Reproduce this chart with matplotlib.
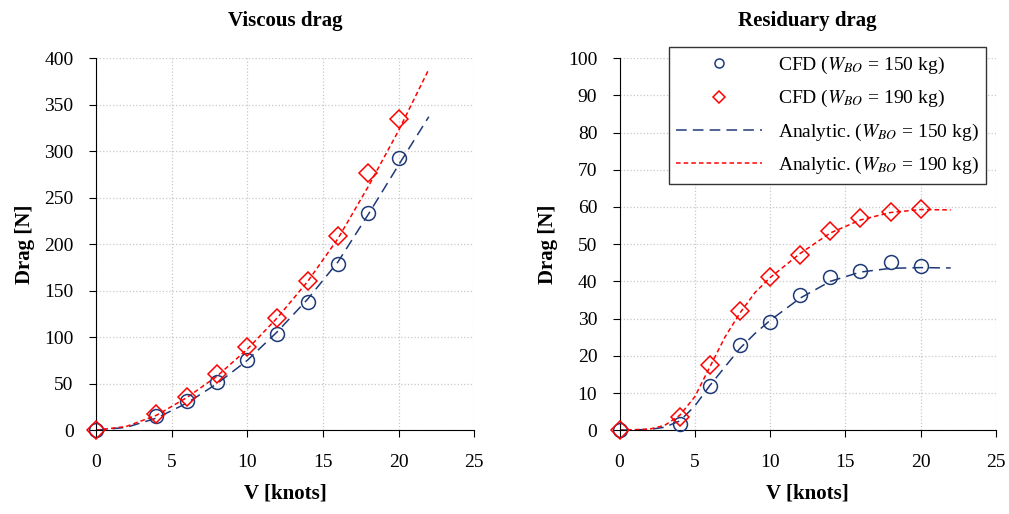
import matplotlib.pyplot as plt
import numpy as np

plt.rcParams['font.family'] = ['Liberation Serif', 'DejaVu Serif']
plt.rcParams['mathtext.fontset'] = 'stix'

# CFD points
v_cfd = [0, 4, 6, 8, 10, 12, 14, 16, 18, 20]
visc_150 = [0, 15, 31, 52, 75, 103, 138, 179, 234, 293]
visc_190 = [0, 17, 36, 60, 89, 121, 160, 209, 277, 335]
resid_150 = [0, 1.8, 12, 23, 29, 36.3, 41.3, 42.7, 45.3, 44]
resid_190 = [0, 3.5, 17.5, 32, 41.2, 47, 53.6, 57, 58.7, 59.5]

# analytic curves
v_an = [0, 2, 4, 6, 8, 10, 12, 14, 16, 18, 20, 22]
visc_an_150 = [0, 3, 13, 29, 50, 75, 106, 141, 181, 232, 285, 337]
visc_an_190 = [0, 4, 16, 35, 58, 87, 121, 160, 206, 262, 322, 388]

v_an_r = [0, 2, 3, 4, 5, 6, 7, 8, 9, 10, 12, 14, 16, 18, 20, 22]
resid_an_150 = [0, 0.2, 0.8, 2.5, 6.5, 12, 17, 22, 26, 29.5, 35.5, 40, 42.5, 43.5, 43.7, 43.6]
resid_an_190 = [0, 0.3, 1.3, 4, 9, 17, 25, 31.5, 37, 41, 47.5, 53, 56.5, 58.5, 59.3, 59.2]

blue = '#1f3a78'
red = '#ff0000'


def draw(ax, y150, y190, a150, a190, va, title, ymax, ystep):
    ax.plot(v_cfd, y150, 'o', mfc='none', mec=blue, ms=10, mew=1.1,
            clip_on=False, zorder=4, label=r'CFD ($W_{BO}$ = 150 kg)')
    ax.plot(v_cfd, y190, 'D', mfc='none', mec=red, ms=9, mew=1.1,
            clip_on=False, zorder=4, label=r'CFD ($W_{BO}$ = 190 kg)')
    ax.plot(va, a150, color=blue, lw=1.1, dashes=(7, 4),
            label=r'Analytic. ($W_{BO}$ = 150 kg)')
    ax.plot(va, a190, color=red, lw=1.1, dashes=(3, 2),
            label=r'Analytic. ($W_{BO}$ = 190 kg)')
    ax.set_xlim(0, 25)
    ax.set_ylim(0, ymax)
    ax.set_xticks(np.arange(0, 26, 5))
    ax.set_yticks(np.arange(0, ymax + 1, ystep))
    ax.grid(True, color='#c8c8c8', ls=':', lw=0.9)
    ax.spines['top'].set_visible(False)
    ax.spines['right'].set_visible(False)
    ax.tick_params(labelsize=14, direction='out', length=5)
    ax.tick_params(axis='x', pad=12)
    ax.tick_params(axis='y', pad=11)
    ax.set_title(title, fontsize=15, fontweight='bold', pad=23)
    ax.set_xlabel('V [knots]', fontsize=15, fontweight='bold', labelpad=9)
    ax.set_ylabel('Drag [N]', fontsize=15, fontweight='bold', labelpad=7)


fig = plt.figure(figsize=(10.09, 5.14), dpi=100)
ax1 = fig.add_axes([0.095, 0.163, 0.375, 0.724])
ax2 = fig.add_axes([0.614, 0.163, 0.373, 0.724])

draw(ax1, visc_150, visc_190, visc_an_150, visc_an_190, v_an,
     'Viscous drag', 400, 50)
draw(ax2, resid_150, resid_190, resid_an_150, resid_an_190, v_an_r,
     'Residuary drag', 100, 10)

leg = ax2.legend(loc='upper right', bbox_to_anchor=(1.0, 1.055), fontsize=14,
                 markerscale=0.65, handlelength=4.4, fancybox=False,
                 framealpha=1, edgecolor='#333333', borderpad=0.4,
                 labelspacing=0.62)
leg.get_frame().set_linewidth(1.0)

fig.savefig('out.png', dpi=100)
